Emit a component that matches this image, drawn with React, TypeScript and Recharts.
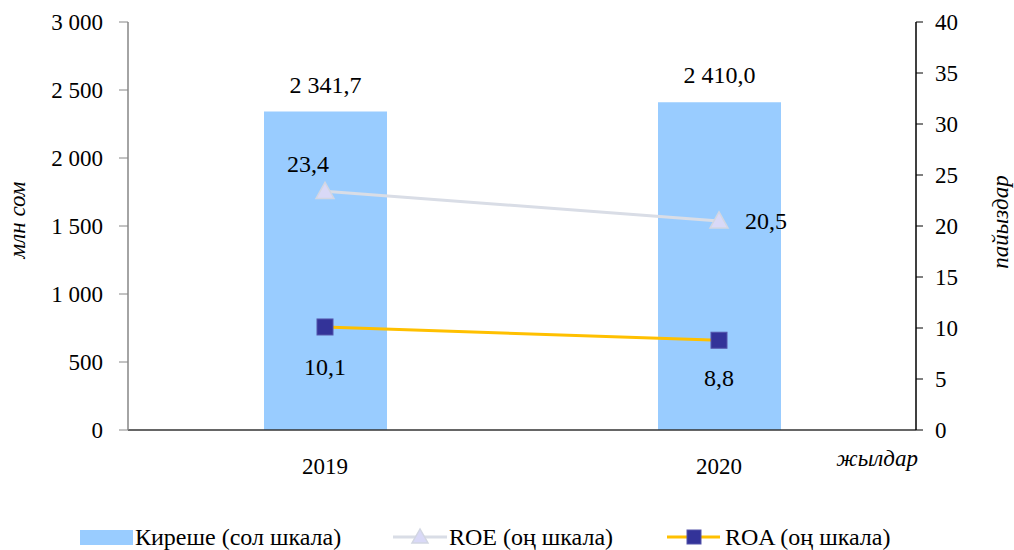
import React from 'react';
import { ComposedChart, Bar, Line, XAxis, YAxis, LabelList } from 'recharts';

const years = ['2019', '2020'];
const revenue = [2341.7, 2410.0];
const roe = [23.4, 20.5];
const roa = [10.1, 8.8];
const leftTicks = [0, 500, 1000, 1500, 2000, 2500, 3000];
const rightTicks = [0, 5, 10, 15, 20, 25, 30, 35, 40];
const boundaryTicks = [0, 1, 2];

const data = years.map((y, i) => ({ year: y, revenue: revenue[i], roe: roe[i], roa: roa[i], idx: i + 0.5 }));

const FONT = '"Liberation Serif", serif';
const FS = 23;
const LFS = 24;

const fmtThousands = (v: number) => String(v).replace(/\B(?=(\d{3})+(?!\d))/g, ' ');
const fmtDec = (v: number) => {
  const [a, b] = v.toFixed(1).split('.');
  return fmtThousands(Number(a)) + ',' + b;
};

const roeLabelShift = [{ dx: -17, dy: -27 }, { dx: 47, dy: 0 }];
const roaLabelShift = [{ dx: 0, dy: 40 }, { dx: 0, dy: 38 }];

const BarLabel = (p: any) => (
  <text x={p.x + p.width / 2} y={p.y - 27} textAnchor="middle" dominantBaseline="central" fontFamily={FONT} fontSize={LFS} fill="#000">
    {fmtDec(p.value)}
  </text>
);

const makePointLabel = (shift: { dx: number; dy: number }[]) => (p: any) => {
  const s = shift[p.index] || { dx: 0, dy: 0 };
  return (
    <text x={p.x + s.dx} y={p.y + s.dy} textAnchor="middle" dominantBaseline="central" fontFamily={FONT} fontSize={LFS} fill="#000">
      {fmtDec(p.value)}
    </text>
  );
};

const Triangle = (p: any) => {
  const { cx, cy } = p;
  if (cx == null || cy == null) return null;
  const s = 9;
  return (
    <polygon
      points={`${cx},${cy - s} ${cx - s},${cy + s * 0.8} ${cx + s},${cy + s * 0.8}`}
      fill="#d9d9f7"
      stroke="#d2d6e2"
      strokeWidth={1.5}
    />
  );
};

const Square = (p: any) => {
  const { cx, cy } = p;
  if (cx == null || cy == null) return null;
  return <rect x={cx - 8} y={cy - 8} width={16} height={16} fill="#333399" stroke="#5555aa" strokeWidth={1} />;
};

const tickStyle = { fontFamily: FONT, fontSize: FS, fill: '#000' };

const itemStyle: React.CSSProperties = { position: 'absolute', top: 0, display: 'flex', alignItems: 'center', height: 24 };

const Legend = () => (
  <div style={{ position: 'absolute', left: 0, top: 525, width: 1014, height: 24, fontFamily: FONT, fontSize: LFS, color: '#000' }}>
    <div style={{ ...itemStyle, left: 80 }}>
      <svg width={55} height={24}><rect x={0} y={5} width={53} height={15} fill="#99ccff" /></svg>
      <span style={{ lineHeight: '24px' }}>Киреше (сол шкала)</span>
    </div>
    <div style={{ ...itemStyle, left: 393 }}>
      <svg width={56} height={24}>
        <line x1={0} y1={12} x2={54} y2={12} stroke="#d9dde6" strokeWidth={3} />
        <polygon points="27,4 19,18 35,18" fill="#d9d9f7" stroke="#d2d6e2" strokeWidth={1.5} />
      </svg>
      <span style={{ lineHeight: '24px' }}>ROE (оң шкала)</span>
    </div>
    <div style={{ ...itemStyle, left: 667 }}>
      <svg width={58} height={24}>
        <line x1={0} y1={12} x2={53} y2={12} stroke="#ffc000" strokeWidth={3} />
        <rect x={20} y={5} width={14} height={14} fill="#333399" stroke="#5555aa" strokeWidth={1} />
      </svg>
      <span style={{ lineHeight: '24px' }}>ROA (оң шкала)</span>
    </div>
  </div>
);

export default function App() {
  return (
    <div style={{ position: 'absolute', left: 0, top: 0, width: 1014, height: 550, background: '#fff', fontFamily: FONT, overflow: 'hidden' }}>
      <ComposedChart width={1014} height={550} data={data} margin={{ top: 22, right: 0, bottom: 80, left: 0 }}>
        <XAxis
          xAxisId="grid"
          dataKey="idx"
          type="number"
          domain={[0, 2]}
          ticks={boundaryTicks}
          tickFormatter={() => ''}
          axisLine={false}
          tickLine={{ stroke: '#333' }}
          tickSize={7}
          height={0}
        />
        <XAxis
          dataKey="year"
          axisLine={{ stroke: '#333', strokeWidth: 1.5 }}
          tickLine={false}
          tick={tickStyle}
          tickMargin={22}
          height={40}
        />
        <YAxis
          yAxisId="left"
          domain={[0, 3000]}
          ticks={leftTicks}
          tickFormatter={(v: number) => fmtThousands(v)}
          axisLine={{ stroke: '#868686', strokeWidth: 1.5 }}
          tickLine={{ stroke: '#868686' }}
          tickSize={9}
          tickMargin={16}
          tick={tickStyle}
          width={128}
          interval={0}
        />
        <YAxis
          yAxisId="right"
          orientation="right"
          domain={[0, 40]}
          ticks={rightTicks}
          axisLine={{ stroke: '#000', strokeWidth: 1.5 }}
          tickLine={{ stroke: '#000' }}
          tickSize={7}
          tickMargin={12}
          tick={{ ...tickStyle, textAnchor: 'start' }}
          width={98}
          interval={0}
        />
        <Bar yAxisId="left" dataKey="revenue" fill="#99ccff" barSize={123} isAnimationActive={false}>
          <LabelList dataKey="revenue" content={BarLabel} />
        </Bar>
        <Line yAxisId="right" dataKey="roe" stroke="#d9dde6" strokeWidth={3} dot={<Triangle />} activeDot={false} isAnimationActive={false}>
          <LabelList dataKey="roe" content={makePointLabel(roeLabelShift)} />
        </Line>
        <Line yAxisId="right" dataKey="roa" stroke="#ffc000" strokeWidth={3} dot={<Square />} activeDot={false} isAnimationActive={false}>
          <LabelList dataKey="roa" content={makePointLabel(roaLabelShift)} />
        </Line>
        <text x={17} y={220} transform="rotate(-90 17 220)" textAnchor="middle" dominantBaseline="central" fontFamily={FONT} fontSize={FS} fontStyle="italic" fill="#000">
          млн сом
        </text>
        <text x={1000} y={222} transform="rotate(-90 1000 222)" textAnchor="middle" dominantBaseline="central" fontFamily={FONT} fontSize={FS} fontStyle="italic" fill="#000">
          пайыздар
        </text>
        <text x={918} y={458} textAnchor="end" dominantBaseline="central" fontFamily={FONT} fontSize={FS} fontStyle="italic" fill="#000">
          жылдар
        </text>
      </ComposedChart>
      <Legend />
    </div>
  );
}
